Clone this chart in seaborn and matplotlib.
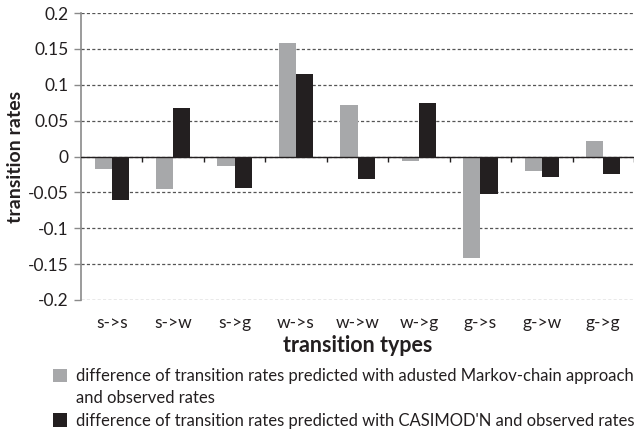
import matplotlib
matplotlib.use("Agg")
import matplotlib.pyplot as plt
from matplotlib.patches import Patch
import seaborn as sns
import pandas as pd

categories = ["s->s", "s->w", "s->g", "w->s", "w->w", "w->g", "g->s", "g->w", "g->g"]
markov_diff = [-0.017, -0.045, -0.013, 0.158, 0.072, -0.006, -0.141, -0.020, 0.022]
casimod_diff = [-0.061, 0.068, -0.044, 0.115, -0.032, 0.074, -0.052, -0.029, -0.024]
series_label_markov = ["difference of transition rates predicted with adusted Markov-chain approach",
                       "and observed rates"]
series_label_casimod = "difference of transition rates predicted with CASIMOD'N and observed rates"
yticks = [-0.2, -0.15, -0.1, -0.05, 0, 0.05, 0.1, 0.15, 0.2]
ytick_labels = ["-0.2", "-0.15", "-0.1", "-0.05", "0", "0.05", "0.1", "0.15", "0.2"]

df = pd.DataFrame({
    "type": categories * 2,
    "rate": markov_diff + casimod_diff,
    "series": ["markov"] * len(categories) + ["casimod"] * len(categories),
})

sns.set_theme(style="white")
plt.rcParams["font.family"] = ["Lato", "DejaVu Sans"]

fig = plt.figure(figsize=(6.38, 4.32), dpi=100)
ax = fig.add_axes([81 / 638, 1 - 300 / 432, (634 - 81) / 638, (300 - 13) / 432])

sns.barplot(data=df, x="type", y="rate", hue="series", order=categories,
            hue_order=["markov", "casimod"],
            palette={"markov": "#a7a8aa", "casimod": "#231f20"},
            width=0.56, gap=0, saturation=1, ax=ax, legend=True)

for p in ax.patches:
    p.set_edgecolor("none")

ax.set_ylim(-0.2, 0.2)
ax.set_xlim(-0.5, len(categories) - 0.5)
ax.set_yticks(yticks)
ax.set_yticklabels(ytick_labels, fontsize=12.5, color="#231f20")
ax.yaxis.grid(True, linestyle=(0, (2.5, 1.8)), color="#555555", linewidth=0.9)
ax.set_axisbelow(True)

for s in ["top", "right", "bottom"]:
    ax.spines[s].set_visible(False)
ax.spines["left"].set_color("#8a8a8a")
ax.spines["left"].set_linewidth(1.2)
ax.tick_params(axis="y", left=True, length=5, width=1, color="#8a8a8a", pad=4)
ax.tick_params(axis="x", bottom=False, length=0, pad=11, labelsize=12.5, labelcolor="#231f20")

ax.axhline(0, color="#231f20", linewidth=1.0, zorder=3)
ax.vlines([i + 0.5 for i in range(len(categories))], -0.008, 0, color="#231f20",
          linewidth=1.0, zorder=3)

ax.set_xlabel("transition types", fontsize=15.5, fontweight="bold", labelpad=3, color="#231f20")
ax.set_ylabel("transition rates", fontsize=14, fontweight="bold", labelpad=3, color="#231f20")

handles, _ = ax.get_legend_handles_labels()
ax.get_legend().remove()
blank = Patch(facecolor="none", edgecolor="none")
leg = fig.legend([handles[0], blank, handles[1]],
                 [series_label_markov[0], series_label_markov[1], series_label_casimod],
                 loc="upper left", bbox_to_anchor=(53 / 638, 1 - 368 / 432),
                 frameon=False, fontsize=12, handlelength=0.85, handleheight=0.85,
                 handletextpad=0.5, labelspacing=0.38, borderpad=0, borderaxespad=0,
                 labelcolor="#231f20")

fig.savefig("out.png", dpi=100)
